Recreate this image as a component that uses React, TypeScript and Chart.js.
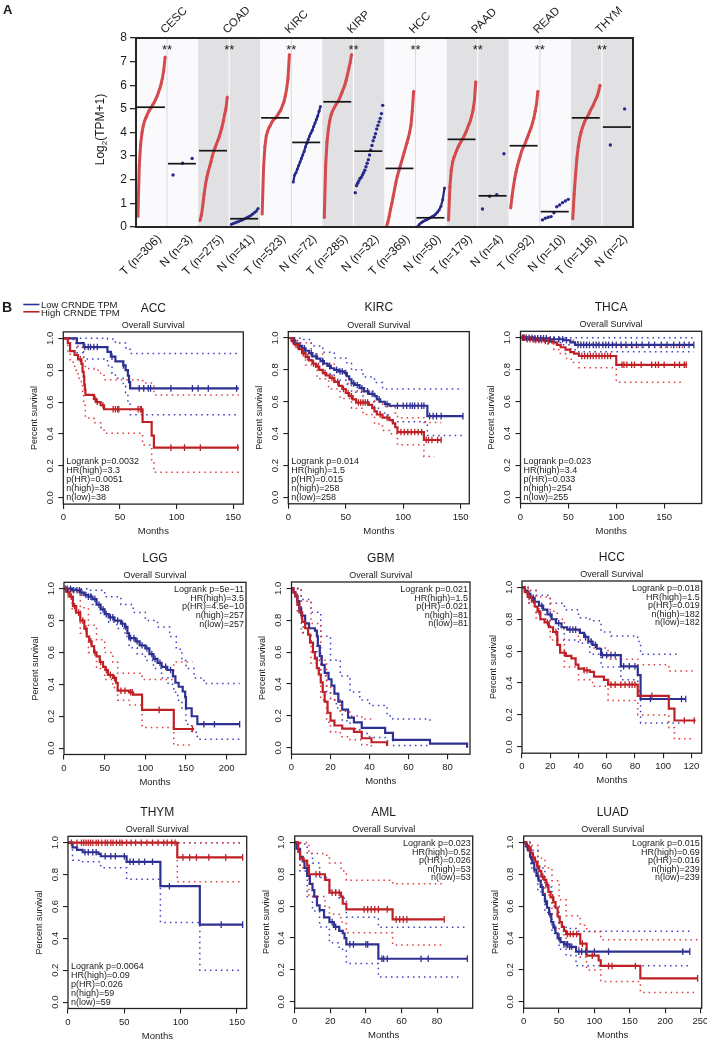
import React, { useEffect, useRef } from 'react';
import { Chart, registerables } from 'chart.js';
Chart.register(...registerables);

const FONT = '"Liberation Sans", Arial, Helvetica, sans-serif';
const TXT = '#1b1b1b';
const RED_DOT = '#d44b4f';
const BLUE_DOT = '#28288c';
const KM_BLUE = '#2e3192';
const KM_RED = '#bf2026';
const CI_BLUE = '#3a3fc4';
const CI_RED = '#e2393f';

// ---------------- Panel A data ----------------
const CANCERS = ['CESC', 'COAD', 'KIRC', 'KIRP', 'HCC', 'PAAD', 'READ', 'THYM'];
const COUNTS_T = [306, 275, 523, 285, 369, 179, 92, 118];
const COUNTS_N = [3, 41, 72, 32, 50, 4, 10, 2];
const Y_TICKS_A = [0, 1, 2, 3, 4, 5, 6, 7, 8];
const MEDIANS = [5.07, 2.68, 3.23, 0.35, 4.62, 3.58, 5.3, 3.21, 2.48, 0.39, 3.71, 1.32, 3.44, 0.65, 4.62, 4.23];

const CESC_T = [0.45, 2.6, 3.5, 4.0, 4.3, 4.5, 4.65, 4.78, 4.9, 5.0, 5.08, 5.18, 5.28, 5.4, 5.52, 5.68, 5.85, 6.05, 6.3, 6.65, 7.2];
const CESC_N = [2.2, 2.7, 2.9];
const COAD_T = [0.27, 0.5, 0.9, 1.4, 1.8, 2.1, 2.35, 2.55, 2.75, 3.0, 3.2, 3.35, 3.5, 3.65, 3.8, 4.0, 4.2, 4.45, 4.75, 5.0, 5.5];
const COAD_N = [0.12, 0.15, 0.18, 0.21, 0.24, 0.27, 0.31, 0.35, 0.39, 0.43, 0.48, 0.54, 0.6, 0.67, 0.78];
const KIRC_T = [0.55, 2.5, 3.4, 3.85, 4.05, 4.2, 4.3, 4.42, 4.52, 4.58, 4.62, 4.7, 4.8, 4.9, 5.0, 5.15, 5.3, 5.55, 5.85, 6.3, 7.3];
const KIRC_N = [1.9, 2.2, 2.3, 2.45, 2.6, 2.75, 2.9, 3.05, 3.2, 3.4, 3.55, 3.7, 3.85, 3.98, 4.1, 4.25, 4.4, 4.55, 4.7, 4.9, 5.1];
const KIRP_T = [0.4, 2.6, 3.6, 4.15, 4.5, 4.75, 4.9, 5.02, 5.12, 5.22, 5.3, 5.42, 5.55, 5.7, 5.85, 6.0, 6.2, 6.45, 6.7, 6.95, 7.3];
const KIRP_N = [1.45, 1.75, 1.85, 1.95, 2.05, 2.1, 2.2, 2.3, 2.4, 2.55, 2.7, 2.85, 3.05, 3.25, 3.45, 3.65, 3.8, 3.95, 4.15, 4.3, 4.45, 4.6, 4.8, 5.15];
const HCC_T = [0.0, 0.2, 0.45, 0.75, 1.0, 1.3, 1.6, 1.9, 2.15, 2.35, 2.55, 2.75, 2.95, 3.15, 3.35, 3.55, 3.75, 4.0, 4.3, 4.9, 5.75];
const HCC_N = [0.02, 0.12, 0.18, 0.23, 0.27, 0.31, 0.35, 0.39, 0.43, 0.48, 0.54, 0.62, 0.72, 0.88, 1.15, 1.65];
const PAAD_T = [0.3, 1.7, 2.4, 2.75, 2.95, 3.1, 3.25, 3.38, 3.5, 3.6, 3.7, 3.8, 3.92, 4.05, 4.2, 4.35, 4.5, 4.7, 4.95, 5.35, 6.15];
const PAAD_N = [0.76, 1.3, 1.37, 3.1];
const READ_T = [0.8, 1.3, 1.7, 2.05, 2.35, 2.6, 2.8, 3.0, 3.2, 3.35, 3.45, 3.6, 3.75, 3.9, 4.05, 4.2, 4.4, 4.6, 4.9, 5.2, 5.75];
const READ_N = [0.3, 0.37, 0.41, 0.44, 0.6, 0.86, 0.93, 1.03, 1.1, 1.17];
const THYM_T = [0.35, 1.4, 2.2, 2.9, 3.4, 3.75, 4.0, 4.2, 4.35, 4.5, 4.6, 4.7, 4.82, 4.95, 5.05, 5.15, 5.3, 5.42, 5.55, 5.75, 6.0];
const THYM_N = [3.47, 5.0];

// ---------------- Panel B data ----------------
const Y_TICKS_KM = [0, 0.2, 0.4, 0.6, 0.8, 1.0];
const LEGEND_LABELS = ['Low CRNDE TPM', 'High CRNDE TPM'];

const ACC_LOW = [[0,1],[12,0.97],[18,0.945],[39,0.915],[42,0.885],[46,0.855],[53,0.83],[55,0.8],[57,0.765],[58,0.725],[59,0.686],[155,0.686]];
const ACC_LOW_CENS = [19,22,24,27,30,43,53,67,71,75,77,95,114,119,128,153];
const ACC_LOW_UP = [[0,1],[39,0.995],[46,0.97],[55,0.94],[59,0.905],[155,0.905]];
const ACC_LOW_LO = [[0,1],[12,0.91],[18,0.87],[39,0.83],[43,0.78],[46,0.75],[53,0.7],[55,0.66],[57,0.6],[59,0.52],[155,0.52]];
const ACC_HIGH = [[0,1],[4,0.97],[6,0.92],[10,0.895],[13,0.868],[16,0.84],[17,0.79],[18,0.76],[18.5,0.71],[19,0.68],[19.5,0.645],[27,0.62],[29,0.6],[33,0.58],[36,0.555],[70,0.475],[78,0.39],[80,0.314],[155,0.314]];
const ACC_HIGH_CENS = [15,28,30,35,44,46,48,49,66,68,69,95,107,121,154];
const ACC_HIGH_UP = [[0,1],[6,0.99],[10,0.97],[13,0.95],[17,0.93],[18,0.88],[19.5,0.81],[27,0.8],[33,0.78],[36,0.74],[60,0.74],[70,0.72],[80,0.645],[155,0.645]];
const ACC_HIGH_LO = [[0,1],[4,0.9],[6,0.85],[10,0.8],[13,0.75],[16,0.72],[17,0.65],[18,0.58],[19.5,0.5],[27,0.47],[33,0.44],[36,0.405],[70,0.33],[78,0.22],[80,0.159],[155,0.159]];
const ACC_STATS = ['Logrank p=0.0032', 'HR(high)=3.3', 'p(HR)=0.0051', 'n(high)=38', 'n(low)=38'];

const KIRC_LOW = [[0,1],[3,0.985],[6,0.965],[9,0.95],[12,0.935],[15,0.92],[18,0.905],[21,0.885],[25,0.87],[28,0.855],[31,0.84],[34,0.825],[37,0.81],[40,0.8],[44,0.79],[49,0.78],[51,0.76],[53,0.74],[55,0.715],[58,0.705],[62,0.685],[66,0.665],[70,0.65],[75,0.635],[77,0.615],[80,0.6],[84,0.585],[88,0.575],[121,0.51],[152,0.51]];
const KIRC_LOW_CENS = [5,10,14,20,24,30,36,42,45,47,50,57,60,64,69,73,79,86,95,100,103,106,108,110,113,116,118,123,126,129,133,152];
const KIRC_LOW_UP = [[0,1],[10,0.99],[20,0.95],[30,0.91],[40,0.875],[50,0.845],[55,0.8],[65,0.755],[75,0.72],[82,0.68],[152,0.68]];
const KIRC_LOW_LO = [[0,1],[5,0.96],[10,0.92],[20,0.84],[30,0.775],[40,0.735],[50,0.71],[55,0.66],[65,0.6],[75,0.56],[80,0.53],[87,0.5],[88,0.475],[121,0.388],[152,0.388]];
const KIRC_HIGH = [[0,1],[3,0.98],[6,0.955],[9,0.93],[12,0.905],[15,0.88],[18,0.86],[21,0.84],[24,0.82],[27,0.8],[30,0.78],[33,0.765],[36,0.75],[40,0.725],[44,0.7],[47,0.68],[50,0.655],[53,0.635],[56,0.615],[59,0.595],[70,0.58],[73,0.56],[75,0.54],[77,0.52],[82,0.5],[88,0.485],[91,0.465],[93,0.44],[95,0.41],[118,0.36],[133,0.36]];
const KIRC_HIGH_CENS = [4,8,13,17,22,26,32,38,43,48,52,55,61,63,65,67,69,80,86,98,101,104,107,110,113,116,120,122,125,130,133];
const KIRC_HIGH_UP = [[0,1],[8,0.97],[20,0.9],[30,0.835],[40,0.785],[50,0.715],[60,0.665],[75,0.6],[82,0.57],[93,0.53],[95,0.5],[118,0.47],[133,0.47]];
const KIRC_HIGH_LO = [[0,1],[5,0.94],[15,0.83],[25,0.745],[35,0.68],[45,0.62],[55,0.56],[65,0.52],[75,0.46],[82,0.42],[88,0.4],[95,0.33],[118,0.257],[127,0.257]];
const KIRC_STATS = ['Logrank p=0.014', 'HR(high)=1.5', 'p(HR)=0.015', 'n(high)=258', 'n(low)=258'];

const THCA_LOW = [[0,1],[15,0.996],[30,0.99],[45,0.984],[52,0.97],[57,0.955],[181,0.955]];
const THCA_LOW_CENS = [3,6,9,12,15,18,21,24,27,31,35,40,44,48,60,63,66,69,72,76,79,82,86,89,92,96,100,105,110,116,121,127,134,140,147,153,160,166,171,176,181];
const THCA_LOW_UP = [[0,1],[181,1]];
const THCA_LOW_LO = [[0,1],[10,0.985],[30,0.97],[45,0.955],[52,0.93],[57,0.912],[181,0.912]];
const THCA_HIGH = [[0,1],[5,0.99],[15,0.985],[25,0.98],[33,0.97],[38,0.955],[42,0.94],[47,0.925],[52,0.91],[56,0.9],[61,0.885],[100,0.83],[174,0.83]];
const THCA_HIGH_CENS = [2,4,7,10,13,16,19,22,26,29,64,67,70,73,76,79,82,85,88,91,94,106,108,111,116,119,126,137,141,144,150,161,166,171,173];
const THCA_HIGH_UP = [[0,1],[30,0.995],[45,0.985],[55,0.975],[61,0.96],[100,0.94],[174,0.94]];
const THCA_HIGH_LO = [[0,1],[10,0.975],[25,0.96],[35,0.925],[40,0.9],[47,0.87],[53,0.845],[61,0.812],[100,0.72],[168,0.72]];
const THCA_STATS = ['Logrank p=0.023', 'HR(high)=3.4', 'p(HR)=0.033', 'n(high)=254', 'n(low)=255'];

const LGG_LOW = [[0,1],[10,0.99],[20,0.975],[25,0.96],[30,0.95],[35,0.935],[40,0.9],[45,0.87],[50,0.84],[55,0.82],[62,0.8],[70,0.78],[75,0.76],[78,0.72],[80,0.69],[88,0.67],[93,0.645],[100,0.625],[105,0.59],[110,0.56],[115,0.535],[120,0.51],[127,0.49],[134,0.45],[137,0.41],[141,0.385],[146,0.355],[149,0.32],[150,0.25],[157,0.2],[164,0.15],[216,0.15]];
const LGG_LOW_CENS = [4,8,12,16,19,22,27,30,33,38,43,48,52,57,60,66,72,76,82,86,90,96,102,108,112,118,125,131,172,185,216];
const LGG_LOW_UP = [[0,1],[30,0.99],[50,0.95],[70,0.9],[85,0.85],[100,0.8],[115,0.76],[130,0.7],[138,0.62],[145,0.55],[150,0.5],[160,0.44],[172,0.405],[216,0.405]];
const LGG_LOW_LO = [[0,1],[20,0.96],[35,0.9],[45,0.84],[55,0.79],[65,0.75],[75,0.7],[80,0.63],[90,0.59],[100,0.55],[110,0.5],[120,0.44],[128,0.4],[135,0.35],[140,0.3],[145,0.25],[150,0.15],[157,0.1],[164,0.055],[216,0.055]];
const LGG_HIGH = [[0,1],[3,0.98],[7,0.95],[11,0.89],[15,0.85],[20,0.8],[25,0.75],[28,0.7],[31,0.67],[34,0.64],[37,0.6],[40,0.575],[44,0.54],[48,0.51],[51,0.49],[54,0.46],[60,0.44],[64,0.41],[66,0.36],[80,0.35],[85,0.335],[96,0.24],[135,0.12],[160,0.12]];
const LGG_HIGH_CENS = [2,5,9,13,18,23,27,33,38,45,52,57,62,70,75,82,84,117,158];
const LGG_HIGH_UP = [[0,1],[10,0.98],[20,0.88],[30,0.77],[40,0.68],[50,0.6],[60,0.54],[66,0.47],[96,0.43],[135,0.54],[158,0.54]];
const LGG_HIGH_LO = [[0,1],[5,0.95],[10,0.86],[20,0.72],[30,0.6],[40,0.5],[50,0.43],[60,0.38],[66,0.3],[80,0.27],[96,0.13],[135,0.02],[155,0.02]];
const LGG_STATS = ['Logrank p=5e\u221211', 'HR(high)=3.5', 'p(HR)=4.5e\u221210', 'n(high)=257', 'n(low)=257'];

const GBM_LOW = [[0,1],[1,0.975],[2,0.95],[3,0.92],[4,0.875],[5,0.83],[7,0.78],[9,0.75],[12,0.735],[13,0.7],[13.5,0.64],[14.5,0.575],[15.5,0.52],[17,0.47],[19,0.43],[20.5,0.39],[22,0.34],[24,0.29],[26,0.24],[29,0.19],[32,0.16],[36,0.125],[48,0.094],[52,0.05],[71,0.026],[90,0]];
const GBM_LOW_CENS: number[] = [];
const GBM_LOW_UP = [[0,1],[5,0.93],[10,0.85],[15,0.7],[20,0.55],[25,0.45],[30,0.35],[35,0.3],[40,0.265],[48,0.265],[49,0.2],[52,0.18],[71,0.165]];
const GBM_LOW_LO = [[0,1],[3,0.85],[6,0.72],[10,0.65],[13,0.55],[15,0.45],[18,0.35],[20,0.3],[23,0.25],[26,0.17],[30,0.12],[35,0.09],[40,0.065],[48,0.045],[52,0.015],[70,0.015]];
const GBM_HIGH = [[0,1],[1,0.975],[2,0.95],[3,0.9],[4,0.85],[5.5,0.79],[7,0.75],[8.5,0.71],[9.5,0.66],[11,0.6],[12,0.56],[13,0.5],[14,0.46],[15,0.41],[16,0.35],[17,0.29],[18.5,0.22],[20,0.17],[22,0.14],[26,0.12],[32,0.1],[36,0.06],[41,0.035],[49,0.012]];
const GBM_HIGH_CENS: number[] = [];
const GBM_HIGH_UP = [[0,1],[5,0.92],[10,0.78],[15,0.55],[18,0.38],[20,0.3],[25,0.23],[30,0.2],[36,0.18],[41,0.177]];
const GBM_HIGH_LO = [[0,1],[5,0.72],[10,0.53],[15,0.3],[18,0.16],[20,0.1],[25,0.07],[30,0.05],[36,0.02],[41,0.005]];
const GBM_STATS = ['Logrank p=0.021', 'HR(high)=1.5', 'p(HR)=0.021', 'n(high)=81', 'n(low)=81'];

const HCC_LOW = [[0,1],[2,0.98],[4,0.96],[6,0.935],[9,0.91],[12,0.885],[15,0.86],[18,0.83],[21,0.8],[24,0.775],[28,0.75],[32,0.735],[41,0.715],[44,0.69],[47,0.66],[50,0.64],[53,0.615],[56,0.575],[70,0.505],[82,0.45],[84,0.3],[116,0.3]];
const HCC_LOW_CENS = [8,14,20,26,34,36,38,45,49,52,57,60,63,66,72,76,80,91,113,116];
const HCC_LOW_UP = [[0,1],[5,0.98],[10,0.95],[20,0.9],[30,0.86],[40,0.81],[48,0.79],[56,0.72],[63,0.695],[82,0.66],[84,0.58],[110,0.58]];
const HCC_LOW_LO = [[0,1],[5,0.9],[10,0.83],[20,0.74],[30,0.67],[40,0.65],[48,0.58],[56,0.5],[70,0.42],[82,0.35],[84,0.15],[113,0.15]];
const HCC_HIGH = [[0,1],[2,0.97],[4,0.94],[7,0.91],[9,0.88],[11,0.85],[13,0.8],[16,0.78],[19,0.75],[22,0.72],[25,0.64],[27,0.59],[31,0.57],[35,0.555],[38,0.515],[40,0.49],[44,0.48],[48,0.47],[51,0.44],[58,0.42],[61,0.39],[82,0.32],[104,0.24],[108,0.165],[123,0.165]];
const HCC_HIGH_CENS = [5,12,18,24,30,44,46,63,66,70,73,76,78,80,92,115,122];
const HCC_HIGH_UP = [[0,1],[5,0.98],[10,0.94],[20,0.85],[25,0.8],[30,0.74],[40,0.67],[50,0.62],[61,0.55],[82,0.515],[104,0.475],[123,0.475]];
const HCC_HIGH_LO = [[0,1],[5,0.9],[10,0.8],[20,0.67],[30,0.5],[40,0.42],[50,0.38],[61,0.29],[82,0.2],[104,0.12],[108,0.05],[120,0.05]];
const HCC_STATS = ['Logrank p=0.018', 'HR(high)=1.5', 'p(HR)=0.019', 'n(high)=182', 'n(low)=182'];

const THYM_LOW = [[0,1],[4,0.97],[8,0.955],[13,0.94],[27,0.93],[29,0.915],[52,0.88],[82,0.727],[117,0.486],[155,0.486]];
const THYM_LOW_CENS = [15,18,22,25,33,38,42,50,55,58,63,68,75,90,136,155];
const THYM_LOW_UP = [[0,1],[155,1]];
const THYM_LOW_LO = [[0,1],[4,0.89],[13,0.88],[29,0.843],[52,0.77],[82,0.5],[117,0.2],[155,0.2]];
const THYM_HIGH = [[0,1],[97,0.908],[155,0.908]];
const THYM_HIGH_CENS = [3,8,12,14,16,18,20,22,25,27,30,33,35,38,40,43,46,48,52,56,60,65,70,75,80,85,88,92,95,102,108,114,125,140,155];
const THYM_HIGH_UP = [[0,1],[155,1]];
const THYM_HIGH_LO = [[0,1],[97,0.755],[155,0.755]];
const THYM_STATS = ['Logrank p=0.0064', 'HR(high)=0.09', 'p(HR)=0.026', 'n(high)=59', 'n(low)=59'];

const AML_LOW = [[0,1],[1,0.96],[3,0.91],[4.5,0.88],[5.5,0.84],[7,0.79],[8.5,0.74],[10,0.7],[11,0.66],[12.5,0.605],[14,0.575],[16.5,0.53],[19.5,0.5],[22,0.47],[25,0.445],[27,0.43],[28,0.4],[29,0.36],[47,0.27],[97,0.27]];
const AML_LOW_CENS = [21,23,31,33,40,41,49,50,52,71,75,97];
const AML_LOW_UP = [[0,1],[3,0.99],[7,0.93],[10,0.87],[14,0.78],[19.5,0.7],[25,0.65],[29,0.53],[47,0.468],[97,0.468]];
const AML_LOW_LO = [[0,1],[3,0.82],[7,0.66],[10,0.57],[14,0.47],[19.5,0.37],[25,0.33],[29,0.24],[47,0.155],[92,0.155]];
const AML_HIGH = [[0,1],[2,0.94],[3,0.9],[5,0.885],[7,0.855],[8,0.8],[17,0.765],[19.5,0.685],[26,0.66],[27,0.615],[29,0.58],[55,0.517],[84,0.517]];
const AML_HIGH_CENS = [12,14,21,23,25,39,41,43,45,47,52,57,59,61,63,84];
const AML_HIGH_UP = [[0,1],[8,0.93],[17,0.92],[19.5,0.87],[26,0.82],[29,0.763],[55,0.74],[84,0.74]];
const AML_HIGH_LO = [[0,1],[3,0.84],[8,0.66],[17,0.6],[19.5,0.55],[26,0.5],[29,0.433],[55,0.357],[84,0.357]];
const AML_STATS = ['Logrank p=0.023', 'HR(high)=0.52', 'p(HR)=0.026', 'n(high)=53', 'n(low)=53'];

const LUAD_LOW = [[0,1],[3,0.975],[6,0.95],[9,0.91],[12,0.87],[15,0.83],[18,0.79],[21,0.76],[24,0.72],[27,0.67],[30,0.63],[33,0.59],[36,0.55],[39,0.5],[42,0.465],[45,0.43],[48,0.4],[52,0.375],[57,0.36],[65,0.345],[74,0.315],[235,0.315]];
const LUAD_LOW_CENS = [5,10,15,20,26,31,37,44,50,57,60,62,65,68,78,82,88,100,120,225,235];
const LUAD_LOW_UP = [[0,1],[10,0.95],[20,0.84],[30,0.72],[40,0.6],[50,0.48],[60,0.46],[74,0.443],[235,0.443]];
const LUAD_LOW_LO = [[0,1],[10,0.84],[20,0.69],[30,0.56],[40,0.43],[50,0.33],[60,0.29],[74,0.227],[235,0.227]];
const LUAD_HIGH = [[0,1],[4,0.98],[7,0.96],[10,0.935],[13,0.905],[16,0.88],[19,0.85],[22,0.82],[25,0.785],[29,0.765],[32,0.73],[35,0.69],[38,0.655],[42,0.625],[45,0.59],[48,0.535],[51,0.5],[54,0.47],[57,0.445],[60,0.425],[80,0.365],[89,0.29],[106,0.26],[109,0.225],[165,0.147],[246,0.147]];
const LUAD_HIGH_CENS = [8,14,20,27,34,41,62,66,70,75,83,97,120,125,158,246];
const LUAD_HIGH_UP = [[0,1],[10,0.98],[20,0.9],[30,0.84],[40,0.76],[50,0.64],[60,0.54],[80,0.48],[89,0.44],[109,0.39],[246,0.39]];
const LUAD_HIGH_LO = [[0,1],[10,0.88],[20,0.76],[30,0.67],[40,0.55],[50,0.42],[60,0.34],[80,0.28],[89,0.2],[109,0.128],[165,0.059],[246,0.059]];
const LUAD_STATS = ['Logrank p=0.015', 'HR(high)=0.69', 'p(HR)=0.016', 'n(high)=239', 'n(low)=239'];

// plot layout (positions only)
const PLOTS: any[] = [
  { name: 'ACC', xTicks: [0, 50, 100, 150], xMax: 158.9, box: [63.3, 331.9, 243.3, 504.1], cv: [0, 280, 252, 265], statsPos: 'bl', legend: true,
    low: ACC_LOW, lowCens: ACC_LOW_CENS, lowUp: ACC_LOW_UP, lowLo: ACC_LOW_LO, high: ACC_HIGH, highCens: ACC_HIGH_CENS, highUp: ACC_HIGH_UP, highLo: ACC_HIGH_LO, stats: ACC_STATS },
  { name: 'KIRC', xTicks: [0, 50, 100, 150], xMax: 157.5, box: [288.3, 331.6, 469.3, 503.8], cv: [252, 280, 226, 265], statsPos: 'bl',
    low: KIRC_LOW, lowCens: KIRC_LOW_CENS, lowUp: KIRC_LOW_UP, lowLo: KIRC_LOW_LO, high: KIRC_HIGH, highCens: KIRC_HIGH_CENS, highUp: KIRC_HIGH_UP, highLo: KIRC_HIGH_LO, stats: KIRC_STATS },
  { name: 'THCA', xTicks: [0, 50, 100, 150], xMax: 189.2, box: [520.5, 331.3, 702.7, 503.5], cv: [478, 280, 229, 265], statsPos: 'bl',
    low: THCA_LOW, lowCens: THCA_LOW_CENS, lowUp: THCA_LOW_UP, lowLo: THCA_LOW_LO, high: THCA_HIGH, highCens: THCA_HIGH_CENS, highUp: THCA_HIGH_UP, highLo: THCA_HIGH_LO, stats: THCA_STATS },
  { name: 'LGG', xTicks: [0, 50, 100, 150, 200], xMax: 223.8, box: [64, 582.3, 246, 754.5], cv: [0, 545, 252, 250], statsPos: 'tr',
    low: LGG_LOW, lowCens: LGG_LOW_CENS, lowUp: LGG_LOW_UP, lowLo: LGG_LOW_LO, high: LGG_HIGH, highCens: LGG_HIGH_CENS, highUp: LGG_HIGH_UP, highLo: LGG_HIGH_LO, stats: LGG_STATS },
  { name: 'GBM', xTicks: [0, 20, 40, 60, 80], xMax: 91.5, box: [291.5, 582, 470, 754.2], cv: [252, 545, 226, 250], statsPos: 'tr',
    low: GBM_LOW, lowCens: GBM_LOW_CENS, lowUp: GBM_LOW_UP, lowLo: GBM_LOW_LO, high: GBM_HIGH, highCens: GBM_HIGH_CENS, highUp: GBM_HIGH_UP, highLo: GBM_HIGH_LO, stats: GBM_STATS },
  { name: 'HCC', xTicks: [0, 20, 40, 60, 80, 100, 120], xMax: 127.3, box: [522, 581, 702.7, 753.2], cv: [478, 545, 229, 250], statsPos: 'tr',
    low: HCC_LOW, lowCens: HCC_LOW_CENS, lowUp: HCC_LOW_UP, lowLo: HCC_LOW_LO, high: HCC_HIGH, highCens: HCC_HIGH_CENS, highUp: HCC_HIGH_UP, highLo: HCC_HIGH_LO, stats: HCC_STATS },
  { name: 'THYM', xTicks: [0, 50, 100, 150], xMax: 158.6, box: [68, 836.3, 247.7, 1008.5], cv: [0, 795, 252, 246], statsPos: 'bl',
    low: THYM_LOW, lowCens: THYM_LOW_CENS, lowUp: THYM_LOW_UP, lowLo: THYM_LOW_LO, high: THYM_HIGH, highCens: THYM_HIGH_CENS, highUp: THYM_HIGH_UP, highLo: THYM_HIGH_LO, stats: THYM_STATS },
  { name: 'AML', xTicks: [0, 20, 40, 60, 80], xMax: 100, box: [294.7, 836, 474, 1008.2], cv: [252, 795, 226, 246], statsPos: 'tr',
    low: AML_LOW, lowCens: AML_LOW_CENS, lowUp: AML_LOW_UP, lowLo: AML_LOW_LO, high: AML_HIGH, highCens: AML_HIGH_CENS, highUp: AML_HIGH_UP, highLo: AML_HIGH_LO, stats: AML_STATS },
  { name: 'LUAD', xTicks: [0, 50, 100, 150, 200, 250], xMax: 251.8, box: [523.7, 836, 703.3, 1008.2], cv: [478, 795, 229, 246], statsPos: 'tr',
    low: LUAD_LOW, lowCens: LUAD_LOW_CENS, lowUp: LUAD_LOW_UP, lowLo: LUAD_LOW_LO, high: LUAD_HIGH, highCens: LUAD_HIGH_CENS, highUp: LUAD_HIGH_UP, highLo: LUAD_HIGH_LO, stats: LUAD_STATS },
];

function survAt(curve: number[][], t: number) {
  let s = 1;
  for (const [tt, ss] of curve) if (tt <= t) s = ss;
  return s;
}

function font(size: number, bold = false) {
  return `${bold ? 'bold ' : ''}${size}px ${FONT}`;
}

function PanelA() {
  const ref = useRef<HTMLCanvasElement>(null);
  useEffect(() => {
    const cols = [CESC_T, CESC_N, COAD_T, COAD_N, KIRC_T, KIRC_N, KIRP_T, KIRP_N, HCC_T, HCC_N, PAAD_T, PAAD_N, READ_T, READ_N, THYM_T, THYM_N];
    const counts = CANCERS.flatMap((_, g) => [COUNTS_T[g], COUNTS_N[g]]);
    const xLabels = CANCERS.flatMap((_, g) => [`T (n=${COUNTS_T[g]})`, `N (n=${COUNTS_N[g]})`]);
    const datasets: any[] = [];
    MEDIANS.forEach((m, i) => {
      datasets.push({ data: [{ x: i + 0.03, y: m }, { x: i + 0.93, y: m }], showLine: true, borderColor: '#151515', borderWidth: 1.7, pointRadius: 0, order: 0 });
    });
    cols.forEach((vals, i) => {
      const isT = i % 2 === 0;
      const color = isT ? RED_DOT : BLUE_DOT;
      datasets.push({
        data: vals.map((v, k) => ({ x: i + 0.04 + 0.92 * (k + 0.5) / vals.length, y: v })),
        showLine: counts[i] >= 40,
        borderColor: color, borderWidth: isT ? 3 : 2.2,
        backgroundColor: color, pointBackgroundColor: color, pointBorderWidth: 0,
        pointRadius: counts[i] >= 40 ? 1.5 : 1.7, order: 1,
      });
    });
    const W = 707, H = 280, L = 136, T = 38, R = 633, B = 227;
    const deco = {
      id: 'decoA',
      beforeDatasetsDraw(chart: any) {
        const { ctx, chartArea: a, scales } = chart;
        const x = scales.x;
        ctx.save();
        for (let g = 0; g < 8; g++) {
          const x0 = x.getPixelForValue(2 * g), x1 = x.getPixelForValue(2 * g + 2), xm = x.getPixelForValue(2 * g + 1);
          ctx.fillStyle = g % 2 ? '#e1e1e4' : '#fafafd';
          ctx.fillRect(x0, a.top, x1 - x0, a.bottom - a.top);
          ctx.strokeStyle = g % 2 ? '#ffffff' : '#dadade';
          ctx.lineWidth = 1;
          ctx.beginPath(); ctx.moveTo(xm, a.top); ctx.lineTo(xm, a.bottom); ctx.stroke();
        }
        ctx.restore();
      },
      afterDraw(chart: any) {
        const { ctx, chartArea: a, scales } = chart;
        const x = scales.x;
        ctx.save();
        ctx.strokeStyle = '#262626'; ctx.lineWidth = 2;
        ctx.strokeRect(a.left, a.top, a.right - a.left, a.bottom - a.top);
        ctx.fillStyle = TXT;
        // panel letter
        ctx.font = font(13, true); ctx.textAlign = 'left'; ctx.textBaseline = 'alphabetic';
        ctx.fillText('A', 3, 13.5);
        // cancer labels and significance
        for (let g = 0; g < 8; g++) {
          const gx = x.getPixelForValue(2 * g + 1);
          ctx.save();
          ctx.translate(gx - 2, a.top - 4);
          ctx.rotate(-Math.PI / 4);
          ctx.font = font(11.5); ctx.textAlign = 'left'; ctx.textBaseline = 'alphabetic';
          ctx.fillText(CANCERS[g], 0, 0);
          ctx.restore();
          ctx.font = font(13); ctx.textAlign = 'center'; ctx.textBaseline = 'alphabetic';
          ctx.fillText('**', gx, a.top + 16);
        }
        // x labels
        ctx.font = font(12);
        for (let i = 0; i < 16; i++) {
          const cx = x.getPixelForValue(i + 0.5);
          ctx.save();
          ctx.translate(cx + 8, a.bottom + 10);
          ctx.rotate(-Math.PI / 4);
          ctx.textAlign = 'right'; ctx.textBaseline = 'middle';
          ctx.fillText(xLabels[i], 0, 0);
          ctx.restore();
        }
        // y title with subscript
        ctx.save();
        ctx.translate(101, (a.top + a.bottom) / 2 - 3);
        ctx.rotate(-Math.PI / 2);
        ctx.textAlign = 'left'; ctx.textBaseline = 'middle';
        ctx.font = font(12);
        const w1 = ctx.measureText('Log').width;
        const w3 = ctx.measureText('(TPM+1)').width;
        ctx.font = font(8);
        const w2 = ctx.measureText('2').width;
        const sx = -(w1 + w2 + w3) / 2;
        ctx.font = font(12); ctx.fillText('Log', sx, 0);
        ctx.font = font(8); ctx.fillText('2', sx + w1, 4);
        ctx.font = font(12); ctx.fillText('(TPM+1)', sx + w1 + w2, 0);
        ctx.restore();
        ctx.restore();
      },
    };
    const chart = new Chart(ref.current as HTMLCanvasElement, {
      type: 'scatter',
      data: { datasets },
      options: {
        responsive: false, animation: false, devicePixelRatio: 1, events: [],
        layout: { padding: { left: 0, top: T, right: W - R, bottom: 0 } },
        plugins: { legend: { display: false }, tooltip: { enabled: false } },
        scales: {
          x: {
            type: 'linear', min: 0, max: 16,
            afterFit: (s: any) => { s.height = H - B; },
            grid: { display: false }, border: { display: false }, ticks: { display: false },
          },
          y: {
            type: 'linear', min: 0, max: 8,
            afterFit: (s: any) => { s.width = L; },
            afterBuildTicks: (s: any) => { s.ticks = Y_TICKS_A.map((v) => ({ value: v })); },
            grid: { drawOnChartArea: false, drawTicks: true, tickLength: 6, color: '#262626', lineWidth: 1.3 },
            border: { display: false },
            ticks: { font: { size: 12, family: FONT }, color: TXT, padding: 3 },
          },
        },
      } as any,
      plugins: [deco as any],
    });
    return () => chart.destroy();
  }, []);
  return <canvas ref={ref} width={707} height={280} style={{ position: 'absolute', left: 0, top: 0, width: 707, height: 280 }} />;
}

function KMPlot({ p }: { p: any }) {
  const ref = useRef<HTMLCanvasElement>(null);
  useEffect(() => {
    const [L, T, R, B] = p.box;
    const [cx, cy, cw, ch] = p.cv;
    const datasets: any[] = [];
    const addLine = (pts: number[][], color: string, width: number, dash: number[], order: number) => {
      datasets.push({
        data: pts.map(([t, s]) => ({ x: t, y: s })), showLine: true, stepped: 'before',
        borderColor: color, borderWidth: width, borderDash: dash, pointRadius: 0, fill: false, order,
      });
    };
    const addCens = (times: number[], curve: number[][], color: string) => {
      datasets.push({
        data: times.map((t) => ({ x: t, y: survAt(curve, t) })), showLine: false,
        pointStyle: 'line', pointRotation: 90, pointRadius: 3.3,
        borderColor: color, pointBorderColor: color, pointBorderWidth: 1.3, borderWidth: 1.3, order: 0,
      });
    };
    addLine(p.lowUp, CI_BLUE, 1.5, [1.5, 4], 4);
    addLine(p.lowLo, CI_BLUE, 1.5, [1.5, 4], 4);
    addLine(p.highUp, CI_RED, 1.5, [1.5, 4], 3);
    addLine(p.highLo, CI_RED, 1.5, [1.5, 4], 3);
    addLine(p.low, KM_BLUE, 2.2, [], 2);
    addLine(p.high, KM_RED, 2.2, [], 1);
    addCens(p.lowCens, p.low, KM_BLUE);
    addCens(p.highCens, p.high, KM_RED);

    const deco = {
      id: 'decoKM',
      afterDraw(chart: any) {
        const { ctx, chartArea: a, scales } = chart;
        const x = scales.x, y = scales.y;
        ctx.save();
        ctx.strokeStyle = '#222'; ctx.lineWidth = 1.3;
        ctx.strokeRect(a.left, a.top, a.right - a.left, a.bottom - a.top);
        ctx.fillStyle = TXT;
        const mid = (a.left + a.right) / 2;
        ctx.textAlign = 'center'; ctx.textBaseline = 'middle';
        ctx.font = font(12); ctx.fillText(p.name, mid, a.top - 23.5);
        ctx.font = font(9); ctx.fillText('Overall Survival', mid, a.top - 6.5);
        // y tick labels
        ctx.font = font(9.5);
        for (const v of Y_TICKS_KM) {
          ctx.save();
          ctx.translate(a.left - 13, y.getPixelForValue(v));
          ctx.rotate(-Math.PI / 2);
          ctx.fillText(v.toFixed(1), 0, 0);
          ctx.restore();
        }
        ctx.save();
        ctx.translate(a.left - 28.5, (y.getPixelForValue(0) + y.getPixelForValue(1)) / 2);
        ctx.rotate(-Math.PI / 2);
        ctx.font = font(9); ctx.fillText('Percent survival', 0, 0);
        ctx.restore();
        // x tick labels
        ctx.font = font(9.5);
        for (const v of p.xTicks) ctx.fillText(String(v), x.getPixelForValue(v), a.bottom + 13.5);
        ctx.fillText('Months', mid, a.bottom + 27.5);
        // stats
        ctx.font = font(9);
        if (p.statsPos === 'bl') {
          ctx.textAlign = 'left';
          const y0 = y.getPixelForValue(0);
          p.stats.forEach((s: string, i: number) => ctx.fillText(s, a.left + 3, y0 - 9 * (p.stats.length - 1 - i)));
        } else {
          ctx.textAlign = 'right';
          p.stats.forEach((s: string, i: number) => ctx.fillText(s, a.right - 2, a.top + 7.5 + 8.6 * i));
        }
        if (p.legend) {
          ctx.font = font(14, true); ctx.textAlign = 'left'; ctx.textBaseline = 'alphabetic';
          ctx.fillText('B', 2 - cx, 311.5 - cy);
          ctx.lineWidth = 1.6;
          const lx0 = 23.3 - cx, lx1 = 39.5 - cx;
          ctx.strokeStyle = KM_BLUE;
          ctx.beginPath(); ctx.moveTo(lx0, 304.5 - cy); ctx.lineTo(lx1, 304.5 - cy); ctx.stroke();
          ctx.strokeStyle = KM_RED;
          ctx.beginPath(); ctx.moveTo(lx0, 311.8 - cy); ctx.lineTo(lx1, 311.8 - cy); ctx.stroke();
          ctx.font = font(9.5); ctx.textBaseline = 'middle';
          ctx.fillText(LEGEND_LABELS[0], 41 - cx, 305.5 - cy);
          ctx.fillText(LEGEND_LABELS[1], 41 - cx, 313.5 - cy);
        }
        ctx.restore();
      },
    };
    const chart = new Chart(ref.current as HTMLCanvasElement, {
      type: 'scatter',
      data: { datasets },
      options: {
        responsive: false, animation: false, devicePixelRatio: 1, events: [],
        layout: { padding: { left: 0, top: T - cy, right: cx + cw - R, bottom: 0 } },
        plugins: { legend: { display: false }, tooltip: { enabled: false } },
        scales: {
          x: {
            type: 'linear', min: 0, max: p.xMax,
            afterFit: (s: any) => { s.height = cy + ch - B; },
            afterBuildTicks: (s: any) => { s.ticks = p.xTicks.map((v: number) => ({ value: v })); },
            grid: { drawOnChartArea: false, drawTicks: true, tickLength: 5, color: '#222', lineWidth: 1.1 },
            border: { display: false }, ticks: { display: false },
          },
          y: {
            type: 'linear', min: -0.04, max: 1.04,
            afterFit: (s: any) => { s.width = L - cx; },
            afterBuildTicks: (s: any) => { s.ticks = Y_TICKS_KM.map((v) => ({ value: v })); },
            grid: { drawOnChartArea: false, drawTicks: true, tickLength: 5, color: '#222', lineWidth: 1.1 },
            border: { display: false }, ticks: { display: false },
          },
        },
      } as any,
      plugins: [deco as any],
    });
    return () => chart.destroy();
  }, [p]);
  const [cx, cy, cw, ch] = p.cv;
  return <canvas ref={ref} width={cw} height={ch} style={{ position: 'absolute', left: cx, top: cy, width: cw, height: ch }} />;
}

export default function App() {
  useEffect(() => { document.body.style.margin = '0'; }, []);
  return (
    <div style={{ position: 'absolute', left: 0, top: 0, width: 707, height: 1041, background: '#ffffff', overflow: 'hidden' }}>
      <PanelA />
      {PLOTS.map((p) => <KMPlot key={p.name} p={p} />)}
    </div>
  );
}
